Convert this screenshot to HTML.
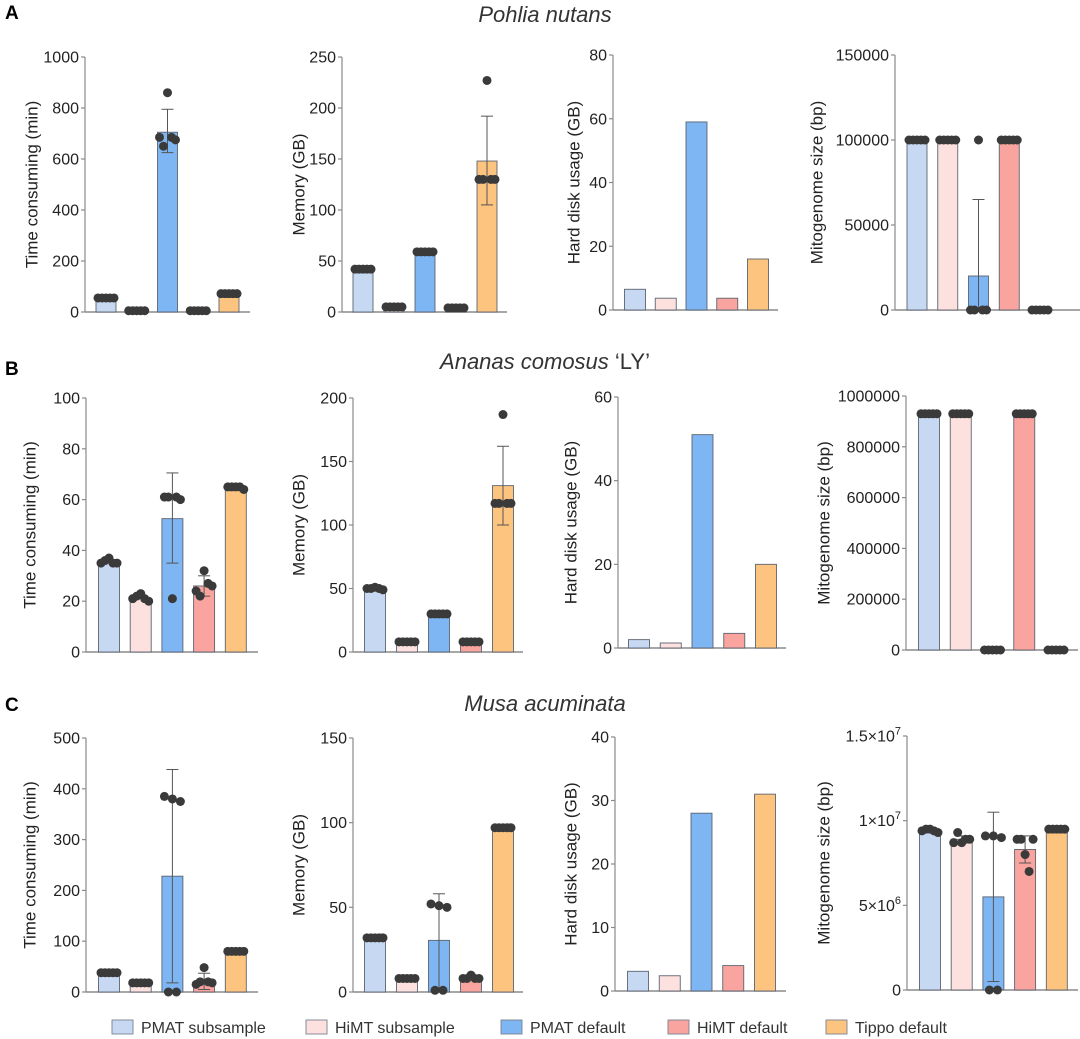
<!DOCTYPE html>
<html><head><meta charset="utf-8">
<style>
html,body{margin:0;padding:0;background:#fff;}
svg{display:block;font-family:"Liberation Sans",Arial,sans-serif;}
</style></head>
<body>
<svg id="fig" width="1080" height="1039" viewBox="0 0 1080 1039">
<text x="5" y="19" font-size="19" font-weight="bold">A</text>
<text x="5" y="375" font-size="19" font-weight="bold">B</text>
<text x="5" y="711" font-size="19" font-weight="bold">C</text>
<text x="545" y="22" font-size="22" font-style="italic" text-anchor="middle" fill="#333">Pohlia nutans</text>
<text x="545" y="369" font-size="22" font-style="italic" text-anchor="middle" fill="#333">Ananas comosus<tspan font-style="normal"> ‘LY’</tspan></text>
<text x="545" y="711" font-size="22" font-style="italic" text-anchor="middle" fill="#333">Musa acuminata</text>
<g id="plots"></g>
<g id="legend"></g>
</svg>
<script>
// categories and colors
const categories = ["PMAT subsample","HiMT subsample","PMAT default","HiMT default","Tippo default"];
const colors = ["#c6d8f2","#fde1df","#7eb5f3","#f9a49f","#fdc47f"];

// Row A: Pohlia nutans
const aTimeBars = [55,5,705,5,70];
const aTimeErr = [null,null,[625,795],null,null];
const aTimeDots = [[55,55,55,55,55],[5,5,5,5,5],[685,650,860,685,675],[5,5,5,5,5],[72,72,72,72,72]];
const aTimeTicks = [0,200,400,600,800,1000];
const aMemBars = [42,5,59,4,148];
const aMemErr = [null,null,null,null,[105,192]];
const aMemDots = [[42,42,42,42,42],[5,5,5,5,5],[59,59,59,59,59],[4,4,4,4,4],[130,130,227,130,130]];
const aMemTicks = [0,50,100,150,200,250];
const aDiskBars = [6.5,3.7,59,3.7,16];
const aDiskTicks = [0,20,40,60,80];
const aMitoBars = [100000,100000,20000,100000,0];
const aMitoErr = [null,null,[0,65000],null,null];
const aMitoDots = [[100000,100000,100000,100000,100000],[100000,100000,100000,100000,100000],[0,0,100000,0,0],[100000,100000,100000,100000,100000],[0,0,0,0,0]];
const aMitoTicks = [0,50000,100000,150000];

// Row B: Ananas comosus 'LY'
const bTimeBars = [35.5,21,52.5,26,65];
const bTimeErr = [null,null,[35,70.5],[22,30],null];
const bTimeDots = [[35,36,37,35,35],[21,22,23,21,20],[61,61,21,61,60],[24,22,32,27,26],[65,65,65,65,64]];
const bTimeTicks = [0,20,40,60,80,100];
const bMemBars = [50,8,30,8,131];
const bMemErr = [null,null,null,null,[100,162]];
const bMemDots = [[50,50,51,50,49],[8,8,8,8,8],[30,30,30,30,30],[8,8,8,8,8],[117,117,187,117,117]];
const bMemTicks = [0,50,100,150,200];
const bDiskBars = [2,1.2,51,3.5,20];
const bDiskTicks = [0,20,40,60];
const bMitoBars = [930000,930000,0,930000,0];
const bMitoErr = [null,null,null,null,null];
const bMitoDots = [[930000,930000,930000,930000,930000],[930000,930000,930000,930000,930000],[0,0,0,0,0],[930000,930000,930000,930000,930000],[0,0,0,0,0]];
const bMitoTicks = [0,200000,400000,600000,800000,1000000];

// Row C: Musa acuminata
const cTimeBars = [38,18,228,20,80];
const cTimeErr = [null,null,[18,438],[5,37],null];
const cTimeDots = [[38,38,38,38,38],[18,18,18,18,18],[385,0,380,0,375],[15,20,48,20,18],[80,80,80,80,80]];
const cTimeTicks = [0,100,200,300,400,500];
const cMemBars = [32,8,30.5,8,97];
const cMemErr = [null,null,[2,58],null,null];
const cMemDots = [[32,32,32,32,32],[8,8,8,8,8],[52,1,51,1,50],[8,8,10,8,8],[97,97,97,97,97]];
const cMemTicks = [0,50,100,150];
const cDiskBars = [3.1,2.4,28,4,31];
const cDiskTicks = [0,10,20,30,40];
const cMitoBars = [9400000,8900000,5500000,8300000,9500000];
const cMitoErr = [null,[8700000,9100000],[500000,10500000],[7500000,9100000],null];
const cMitoDots = [[9400000,9500000,9500000,9400000,9300000],[8700000,9300000,8700000,8900000,8900000],[9100000,0,9100000,0,9000000],[8900000,8900000,8000000,7000000,8900000],[9500000,9500000,9500000,9500000,9500000]];
const cMitoTicks = [0,5000000,10000000,15000000];
const cMitoTickLabels = ["0","5×10<tspan dy='-7' font-size='11'>6</tspan>","1×10<tspan dy='-7' font-size='11'>7</tspan>","1.5×10<tspan dy='-7' font-size='11'>7</tspan>"];

const NS="http://www.w3.org/2000/svg";
const plots=document.getElementById('plots');
function mk(tag,attrs,parent){const e=document.createElementNS(NS,tag);for(const k in attrs)e.setAttribute(k,attrs[k]);(parent||plots).appendChild(e);return e;}

const panels=[
 {id:'a-time',title:'Time consuming (min)',bars:aTimeBars,err:aTimeErr,dots:aTimeDots,ticks:aTimeTicks,ax:85,top:57,bot:312,x0:106,step:30.75,end:250,bw:20,tx:33},
 {id:'a-memory',title:'Memory (GB)',bars:aMemBars,err:aMemErr,dots:aMemDots,ticks:aMemTicks,ax:342,top:57,bot:312,x0:363,step:31,end:507,bw:20,tx:300},
 {id:'a-disk',title:'Hard disk usage (GB)',bars:aDiskBars,err:null,dots:null,ticks:aDiskTicks,ax:613,top:55,bot:310,x0:635,step:30.75,end:778,bw:21,tx:575},
 {id:'a-mito',title:'Mitogenome size (bp)',bars:aMitoBars,err:aMitoErr,dots:aMitoDots,ticks:aMitoTicks,ax:895,top:55,bot:310,x0:917,step:30.75,end:1080,bw:20,tx:818},
 {id:'b-time',title:'Time consuming (min)',bars:bTimeBars,err:bTimeErr,dots:bTimeDots,ticks:bTimeTicks,ax:86,top:398,bot:652,x0:109,step:31.7,end:258,bw:21,tx:31},
 {id:'b-memory',title:'Memory (GB)',bars:bMemBars,err:bMemErr,dots:bMemDots,ticks:bMemTicks,ax:353,top:398,bot:652,x0:375,step:32,end:523,bw:21,tx:300},
 {id:'b-disk',title:'Hard disk usage (GB)',bars:bDiskBars,err:null,dots:null,ticks:bDiskTicks,ax:618,top:397,bot:648,x0:639,step:31.75,end:786,bw:21,tx:572},
 {id:'b-mito',title:'Mitogenome size (bp)',bars:bMitoBars,err:bMitoErr,dots:bMitoDots,ticks:bMitoTicks,ax:906,top:396,bot:650,x0:929,step:31.75,end:1078,bw:21,tx:825},
 {id:'c-time',title:'Time consuming (min)',bars:cTimeBars,err:cTimeErr,dots:cTimeDots,ticks:cTimeTicks,ax:86,top:738,bot:992,x0:109,step:31.7,end:258,bw:21,tx:31},
 {id:'c-memory',title:'Memory (GB)',bars:cMemBars,err:cMemErr,dots:cMemDots,ticks:cMemTicks,ax:353,top:738,bot:992,x0:375,step:32,end:523,bw:21,tx:300},
 {id:'c-disk',title:'Hard disk usage (GB)',bars:cDiskBars,err:null,dots:null,ticks:cDiskTicks,ax:615,top:737,bot:991,x0:638,step:31.75,end:786,bw:21,tx:572},
 {id:'c-mito',title:'Mitogenome size (bp)',bars:cMitoBars,err:cMitoErr,dots:cMitoDots,ticks:cMitoTicks,tickLabels:cMitoTickLabels,ax:907,top:736,bot:990,x0:930,step:31.7,end:1078,bw:21,tx:825}
];
const offs=[-8,-4,0,4,8];
panels.forEach(p=>{
  const g=mk('g',{});
  
  
  const max=p.ticks[p.ticks.length-1];
  const y=v=>p.bot-(Math.max(v,0)/max)*(p.bot-p.top);
  const x=i=>p.x0+i*p.step;
  // axes
  const yax=mk('line',{x1:p.ax,x2:p.ax,y1:p.top,y2:p.bot,stroke:'#8a8a8a','stroke-width':1.2},g);
  
  
  const xax=mk('line',{x1:p.ax,x2:p.end,y1:p.bot,y2:p.bot,stroke:'#8a8a8a','stroke-width':1.5},g);
  
  
  p.ticks.forEach((t,k)=>{
    mk('line',{x1:p.ax-4,x2:p.ax,y1:y(t),y2:y(t),stroke:'#8a8a8a','stroke-width':1.2},g);
    const tl=mk('text',{x:p.ax-6,y:y(t)+5.5,'font-size':16,'text-anchor':'end',fill:'#222'},g);
    tl.innerHTML=p.tickLabels?p.tickLabels[k]:String(t);
    
    
  });
  const cy=(p.top+p.bot)/2;
  const yt=mk('text',{x:p.tx,y:cy,'font-size':17,'text-anchor':'middle',fill:'#222',transform:`rotate(-90 ${p.tx} ${cy})`,'dominant-baseline':'middle'},g);
  yt.textContent=p.title;
  
  
  p.bars.forEach((v,i)=>{
    const yy=y(v);
    const r=mk('rect',{x:x(i)-p.bw/2,y:yy,width:p.bw,height:Math.max(p.bot-yy,0),fill:colors[i],stroke:'#5c6470','stroke-width':0.9},g);
    
    
  });
  if(p.err) p.err.forEach((e,i)=>{
    if(!e)return;
    const cx=x(i);
    mk('line',{x1:cx,x2:cx,y1:y(e[0]),y2:y(e[1]),stroke:'#555','stroke-width':1},g);
    mk('line',{x1:cx-6,x2:cx+6,y1:y(e[1]),y2:y(e[1]),stroke:'#555','stroke-width':1},g);
    if(e[0]>0) mk('line',{x1:cx-6,x2:cx+6,y1:y(e[0]),y2:y(e[0]),stroke:'#555','stroke-width':1},g);
  });
  if(p.dots) p.dots.forEach((arr,i)=>{
    arr.forEach((v,j)=>{
      const c=mk('circle',{cx:x(i)+offs[j],cy:y(v),r:4.5,fill:'#3a3a3a'},g);
      
      
    });
  });
});
// legend
const lg=document.getElementById('legend');
const legX=[112,306,501,668,826];
categories.forEach((c,i)=>{
  const g=mk('g',{},lg);
  
  
  mk('rect',{x:legX[i],y:1020,width:21,height:14,fill:colors[i],stroke:'#7a8290','stroke-width':0.9},g);
  const t=mk('text',{x:legX[i]+29,y:1033,'font-size':16,fill:'#333'},g);
  t.textContent=c;
});
</script>
</body></html>
